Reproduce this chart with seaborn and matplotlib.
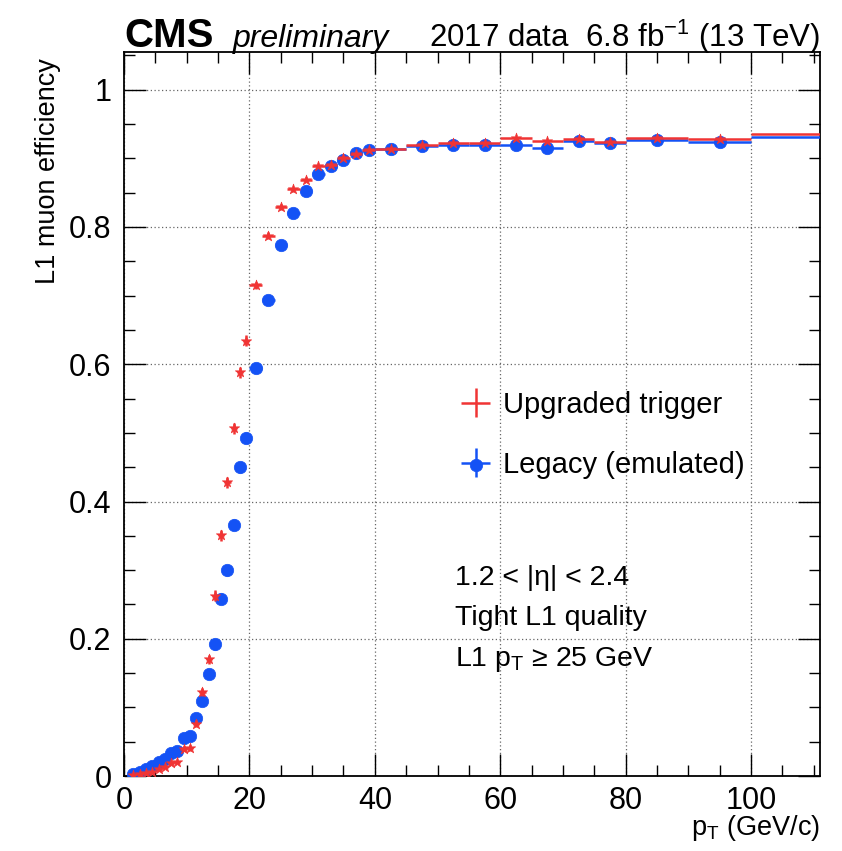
import pandas as pd
import seaborn as sns
import matplotlib.pyplot as plt
from matplotlib.ticker import MultipleLocator
from matplotlib.legend_handler import HandlerTuple

sns.set_theme(style='ticks')
plt.rcParams['font.family'] = ['Liberation Sans', 'DejaVu Sans']
plt.rcParams['mathtext.fontset'] = 'custom'
plt.rcParams['mathtext.rm'] = 'Liberation Sans'
plt.rcParams['mathtext.it'] = 'Liberation Sans:italic'
plt.rcParams['mathtext.bf'] = 'Liberation Sans:bold'
for key in ['text.color', 'axes.labelcolor', 'xtick.color', 'ytick.color', 'axes.edgecolor']:
    plt.rcParams[key] = 'black'

# pT bins (GeV)
bin_lo = [1, 2, 3, 4, 5, 6, 7, 8, 9, 10, 11, 12, 13, 14, 15, 16, 17, 18, 19,
          20, 22, 24, 26, 28, 30, 32, 34, 36, 38,
          40, 45, 50, 55, 60, 65, 70, 75, 80, 90, 100]
bin_hi = [2, 3, 4, 5, 6, 7, 8, 9, 10, 11, 12, 13, 14, 15, 16, 17, 18, 19, 20,
          22, 24, 26, 28, 30, 32, 34, 36, 38, 40,
          45, 50, 55, 60, 65, 70, 75, 80, 90, 100, 140]

eff_upgraded = [0.001, 0.003, 0.004, 0.006, 0.010, 0.013, 0.019, 0.021, 0.040, 0.041,
                0.076, 0.122, 0.170, 0.263, 0.351, 0.428, 0.507, 0.588, 0.634,
                0.715, 0.787, 0.829, 0.855, 0.869, 0.889, 0.891, 0.900, 0.906, 0.912,
                0.914, 0.919, 0.922, 0.922, 0.929, 0.926, 0.928, 0.924, 0.930, 0.928, 0.935]
err_upgraded = [0.001, 0.001, 0.001, 0.002, 0.002, 0.002, 0.003, 0.003, 0.004, 0.004,
                0.005, 0.006, 0.007, 0.008, 0.008, 0.008, 0.008, 0.008, 0.008,
                0.005, 0.005, 0.004, 0.004, 0.004, 0.003, 0.003, 0.003, 0.003, 0.003,
                0.002, 0.002, 0.002, 0.002, 0.002, 0.002, 0.002, 0.002, 0.002, 0.002, 0.002]

eff_legacy = [0.003, 0.006, 0.010, 0.014, 0.020, 0.025, 0.034, 0.036, 0.056, 0.059,
              0.084, 0.109, 0.148, 0.192, 0.258, 0.300, 0.366, 0.450, 0.493,
              0.595, 0.694, 0.774, 0.821, 0.853, 0.877, 0.889, 0.898, 0.908, 0.912,
              0.914, 0.918, 0.920, 0.920, 0.919, 0.915, 0.926, 0.922, 0.927, 0.924, 0.931]
err_legacy = [0.001, 0.001, 0.001, 0.002, 0.002, 0.002, 0.003, 0.003, 0.004, 0.004,
              0.005, 0.006, 0.007, 0.008, 0.008, 0.008, 0.008, 0.008, 0.008,
              0.005, 0.005, 0.004, 0.004, 0.004, 0.003, 0.003, 0.003, 0.003, 0.003,
              0.002, 0.002, 0.002, 0.002, 0.002, 0.002, 0.002, 0.002, 0.002, 0.002, 0.002]

labels = ['Upgraded trigger', 'Legacy (emulated)']
colors = {'Upgraded trigger': '#f03434', 'Legacy (emulated)': '#1452f5'}

frames = []
for lab, eff, err in [(labels[0], eff_upgraded, err_upgraded),
                      (labels[1], eff_legacy, err_legacy)]:
    d = pd.DataFrame({'lo': bin_lo, 'hi': bin_hi, 'eff': eff, 'err': err})
    d['pt'] = (d['lo'] + d['hi']) / 2
    d['xerr'] = (d['hi'] - d['lo']) / 2
    d['trigger'] = lab
    frames.append(d)
df = pd.concat(frames, ignore_index=True)

fig = plt.figure(figsize=(8.42, 8.51), dpi=100)
ax = fig.add_axes([0.1473, 0.0881, 0.8266, 0.8508])

handles = {}
# legacy first, upgraded drawn on top
for lab, marker, size, z in [(labels[1], 'o', 80, 3), (labels[0], '*', 60, 5)]:
    d = df[df['trigger'] == lab]
    eb = ax.errorbar(d['pt'], d['eff'], xerr=d['xerr'], yerr=d['err'], fmt='none',
                     ecolor=colors[lab], elinewidth=1.8, capsize=0, zorder=z)
    sns.scatterplot(data=d, x='pt', y='eff', color=colors[lab], marker=marker, s=size,
                    edgecolor=colors[lab], linewidth=0.5, ax=ax, zorder=z + 1, legend=False)
    handles[lab] = (eb, ax.collections[-1])

ax.set_xlim(0, 111)
ax.set_ylim(0, 1.055)
ax.xaxis.set_major_locator(MultipleLocator(20))
ax.xaxis.set_minor_locator(MultipleLocator(5))
ax.yaxis.set_major_locator(MultipleLocator(0.2))
ax.yaxis.set_minor_locator(MultipleLocator(0.05))
ax.set_yticks([0, 0.2, 0.4, 0.6, 0.8, 1.0])
ax.set_yticklabels(['0', '0.2', '0.4', '0.6', '0.8', '1'])
ax.tick_params(which='both', direction='in', top=True, right=True, labelsize=22,
               color='black', width=1.0)
ax.tick_params(which='major', length=16)
ax.tick_params(which='minor', length=8)
ax.tick_params(axis='x', pad=7)
ax.tick_params(axis='y', pad=9)
ax.grid(True, which='major', linestyle=(0, (1, 2)), color='#666666', linewidth=0.9)
for s in ax.spines.values():
    s.set_linewidth(1.3)
    s.set_color('black')
ax.set_xlabel('')
ax.set_ylabel('')

fig.text(0.057, 0.932, 'L1 muon efficiency', rotation=90, ha='center', va='top', fontsize=19.5)
fig.text(0.974, 0.027, r'$\mathrm{p}_{\mathrm{T}}$ (GeV/c)', ha='right', va='center', fontsize=19.5)

fig.text(0.148, 0.945, 'CMS', fontsize=29, fontweight='bold', ha='left', va='baseline')
fig.text(0.277, 0.945, 'preliminary', fontsize=23, fontstyle='italic', ha='left', va='baseline')
fig.text(0.974, 0.945, r'2017 data  6.8 fb$^{\mathrm{-1}}$ (13 TeV)', fontsize=22.5,
         ha='right', va='baseline')

leg = ax.legend([handles[labels[0]][0], handles[labels[1]]], labels,
                handler_map={tuple: HandlerTuple(ndivide=1)},
                loc='upper left', bbox_to_anchor=(0.436, 0.568), frameon=False,
                fontsize=21, handlelength=1.5, handletextpad=0.2, labelspacing=1.1)

ax.text(0.476, 0.273, r'1.2 < |η| < 2.4', transform=ax.transAxes, fontsize=20.5, va='center')
ax.text(0.476, 0.218, 'Tight L1 quality', transform=ax.transAxes, fontsize=20.5, va='center')
ax.text(0.476, 0.161, r'L1 $\mathrm{p}_{\mathrm{T}}$ ≥ 25 GeV', transform=ax.transAxes,
        fontsize=20.5, va='center')

fig.savefig('out.png', dpi=100)
